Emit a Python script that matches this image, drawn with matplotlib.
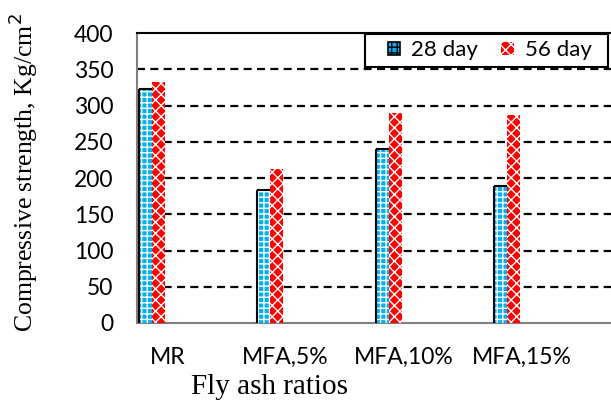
import numpy as np
import matplotlib.pyplot as plt
from matplotlib.patches import Patch, Rectangle

# compressive strength of mortar mixes, Kg/cm2
mixes = ['MR', 'MFA,5%', 'MFA,10%', 'MFA,15%']
day28 = [323, 184, 240, 189]
day56 = [333, 212, 289, 287]

blue = '#00B0F0'
red = '#FF0000'
plt.rcParams['hatch.linewidth'] = 1.0

fig = plt.figure(figsize=(6.11, 4.04), dpi=100)
ax = fig.add_axes([0.2242, 0.2005, 0.7758, 0.7178])

x = np.arange(len(mixes))
w = 0.11
ax.bar(x - w / 2, day28, w, color=blue, edgecolor='white', hatch='+++', linewidth=0, zorder=3)
ax.bar(x + w / 2, day56, w, color=red, edgecolor='white', hatch='xxx', linewidth=0, zorder=3)
# black outline on the 28 day bars (left side and top)
ax.vlines(x - w, 0, day28, color='black', lw=1.5, zorder=4)
ax.hlines(day28, x - w, x, color='black', lw=1.5, zorder=4)

ax.set_xlim(-0.127, 3.88)
ax.set_ylim(0, 400)
ax.set_yticks(np.arange(0, 401, 50))
for y in np.arange(50, 400, 50):
    ax.axhline(y, color='black', lw=1.6, dashes=(3.6, 2.4), zorder=1)

ax.set_xticks(x + 0.13)
ax.set_xticklabels(mixes)
ax.tick_params(axis='both', length=0)
ax.tick_params(axis='x', pad=17, labelsize=16.5)
ax.tick_params(axis='y', pad=17, labelsize=16.5)
for lab in ax.get_xticklabels() + ax.get_yticklabels():
    lab.set_family('Lato')

for s in ['left', 'bottom']:
    ax.spines[s].set_color('#808080')
    ax.spines[s].set_linewidth(1.5)
ax.spines['top'].set_color('black')
ax.spines['top'].set_linewidth(1.5)
ax.spines['right'].set_visible(False)

ax.set_ylabel('Compressive strength, Kg/cm$^2$', family='Liberation Serif', fontsize=18.5)
ax.yaxis.set_label_coords(-0.205, 0.52)
ax.set_xlabel('Fly ash ratios', family='Liberation Serif', fontsize=21)
ax.xaxis.set_label_coords(0.28, -0.175)
ax.xaxis.label.set_va('top')

# legend box
ax.add_patch(Rectangle((0.481, 0.883), 0.5127, 0.1136, transform=ax.transAxes,
                       facecolor='white', edgecolor='black', lw=1.5, zorder=5,
                       clip_on=False))
handles = [Patch(facecolor=blue, edgecolor='black', hatch='+++', lw=1.2),
           Patch(facecolor=red, edgecolor='white', hatch='xxx', lw=0)]
leg = ax.legend(handles, ['28 day', '56 day'], ncol=2, loc='center',
                bbox_to_anchor=(0.744, 0.94), frameon=False,
                prop={'family': 'Lato', 'size': 16},
                handlelength=0.55, handleheight=0.55, handletextpad=0.5,
                columnspacing=1.05, borderpad=0, borderaxespad=0)
leg.set_zorder(6)

plt.savefig('out.png', dpi=100)
